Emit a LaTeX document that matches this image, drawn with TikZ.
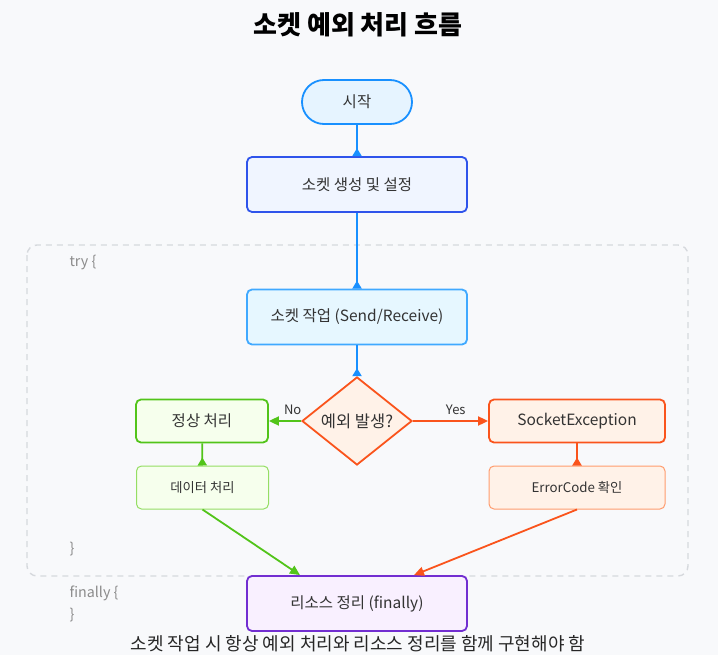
\documentclass[tikz,border=0pt]{standalone}
\usepackage{fontspec}
\setmainfont{Noto Sans CJK KR}
\usepackage{tikz}
\usetikzlibrary{positioning,calc,shapes.geometric,arrows.meta}

\definecolor{bg}{HTML}{F8F9FB}
\definecolor{txt}{HTML}{333333}
\definecolor{codegray}{HTML}{8C8C8C}
\definecolor{dashgray}{HTML}{D6D9DD}
\definecolor{startfill}{HTML}{E6F4FF}
\definecolor{startline}{HTML}{1890FF}
\definecolor{setupfill}{HTML}{F0F5FF}
\definecolor{setupline}{HTML}{2F54EB}
\definecolor{workfill}{HTML}{E6F7FF}
\definecolor{workline}{HTML}{40A9FF}
\definecolor{okfill}{HTML}{F6FFED}
\definecolor{okline}{HTML}{52C41A}
\definecolor{oksubline}{HTML}{95DE64}
\definecolor{errfill}{HTML}{FFF2E8}
\definecolor{errline}{HTML}{FA541C}
\definecolor{errsubline}{HTML}{FF9C6E}
\definecolor{finfill}{HTML}{F9F0FF}
\definecolor{finline}{HTML}{722ED1}

\begin{document}
\begin{tikzpicture}[x=1pt,y=-1pt]
            \tikzstyle{every node}=[font=\fontsize{15.5}{18}\selectfont, text=txt]
            \tikzstyle{mainbox}=[draw, line width=1.8pt, rounded corners=5pt, minimum width=220pt, minimum height=55pt]
            \tikzstyle{sidebox}=[draw, line width=1.8pt, rounded corners=5pt, minimum width=132pt, minimum height=43pt]
            \tikzstyle{subbox}=[draw, line width=1pt, rounded corners=5pt, minimum width=132pt, minimum height=43pt, font=\fontsize{13.3}{15}\selectfont]
            \tikzstyle{codetext}=[anchor=west, text=codegray, font=\fontsize{14.3}{16}\selectfont]
            \tikzstyle{flow}=[line width=1.8pt]
            \tikzstyle{uptip}=[-{Triangle[reversed, length=8pt, width=9pt]}]
            \tikzstyle{tip}=[-{Triangle[length=10pt, width=9pt]}]
            \fill [bg] (0,0) rectangle (718,655);
            \fill [white] (0,655) rectangle (718,661);
            \draw [dashgray, line width=1.4pt, dash pattern=on 6pt off 5pt, rounded corners=10pt] (27,245) rectangle (688,576);
            % title
            \node [font=\fontsize{26}{30}\selectfont\bfseries, text=black] (title) at (358,25) {소켓 예외 처리 흐름};
            % boxes
            \node [draw=startline, fill=startfill, line width=1.8pt, rounded corners=22pt, minimum width=110pt, minimum height=44pt] (start) at (357,102) {시작};
            \node [mainbox, draw=setupline, fill=setupfill] (setup) at (357,184.5) {소켓 생성 및 설정};
            \node [mainbox, draw=workline, fill=workfill] (work) at (357,317) {소켓 작업 (Send/Receive)};
            \node [diamond, draw=errline, fill=errfill, line width=1.8pt, minimum width=110pt, minimum height=88pt, inner sep=0pt, font=\fontsize{16.5}{18}\selectfont] (check) at (357,421) {예외 발생?};
            \node [sidebox, draw=okline, fill=okfill] (ok) at (202,421) {정상 처리};
            \node [subbox, draw=oksubline, fill=okfill] (data) at (202.5,487.5) {데이터 처리};
            \node [sidebox, draw=errline, fill=errfill, minimum width=176pt] (err) at (577,421) {SocketException};
            \node [subbox, draw=errsubline, fill=errfill, minimum width=176pt] (code) at (577,487.5) {ErrorCode 확인};
            \node [mainbox, draw=finline, fill=finfill] (fin) at (357,603.5) {리소스 정리 (finally)};
            % code hints
            \node [codetext] (tryopen) at (66,263) {try \{};
            \node [codetext] (tryclose) at (66,549) {\}};
            \node [codetext] (finopen) at (66,593) {finally \{};
            \node [codetext] (finclose) at (66,615) {\}};
            % connectors
            \draw [flow, uptip, startline] (start) -- (setup);
            \draw [flow, uptip, startline] (setup) -- (work);
            \draw [flow, uptip, startline] (work) -- (check);
            \draw [flow, tip, okline] (check) -- node [above, pos=0.26, font=\fontsize{13}{15}\selectfont, yshift=2pt] (no) {No} (ok);
            \draw [flow, tip, errline] (check) -- node [above, pos=0.57, font=\fontsize{13}{15}\selectfont, yshift=2pt] (yes) {Yes} (err);
            \draw [flow, uptip, okline] (ok) -- (data);
            \draw [flow, uptip, errline] (err) -- (code);
            \draw [flow, tip, okline] (data.south) -- ($(fin.north)+(-57,0)$);
            \draw [flow, tip, errline] (code.south) -- ($(fin.north)+(57,0)$);
            % note
            \node [font=\fontsize{18}{20}\selectfont, text=black!85] (note) at (358,644) {소켓 작업 시 항상 예외 처리와 리소스 정리를 함께 구현해야 함};
        \end{tikzpicture}
\end{document}
